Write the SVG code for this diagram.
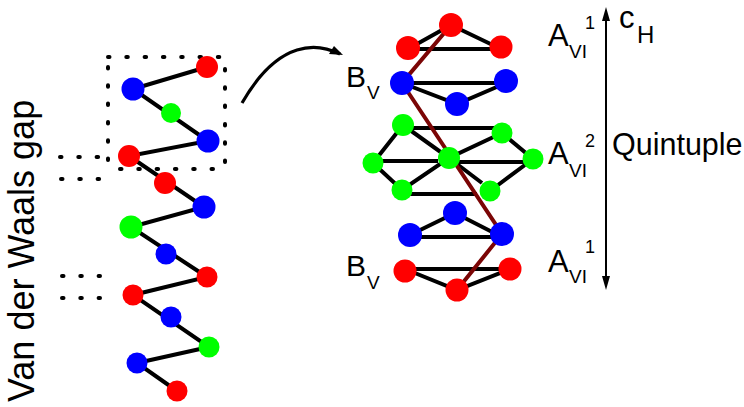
<svg xmlns="http://www.w3.org/2000/svg" width="744" height="407" viewBox="0 0 744 407">
<style>
.b{stroke:#000;stroke-width:4;fill:none}
.m{stroke:#7b0505;stroke-width:4;fill:none}
.d{stroke:#000;stroke-width:4;stroke-linecap:round;stroke-dasharray:1.5 16.8;fill:none}
.r{fill:#f00}.u{fill:#00f}.g{fill:#0f0}
text{font-family:"Liberation Sans",Arial,sans-serif;fill:#000}
.l{font-size:31px}.s{font-size:19px}.n{font-size:18px}
</style>
<g id="connectors">
<path class="b" d="M207 67L133 89L208 141L129 156L204 207L131 227L207 277L133 295L209 347L137 363L177 391"/>
<path class="b" d="M451 25L408 49H501L451 25M402 83H506L457 104L402 83"/>
<path class="b" d="M403 128H502M373 161H438M449 162H533M402 194H477M403 125L449 158L402 190L373 163L403 125M502 133L449 158L482 183M502 133L533 159L490 191"/>
<path class="b" d="M455 213L410 235V237H502L455 213M405 269H510L457 290L405 269"/>
<path class="m" d="M451 25L402 83L502 234L457 290"/>
<path class="d" d="M108 57H225M108 67V165M225 69V165M120 169H225"/>
<path class="d" d="M60 157H100M61 179H100M62 276H100M62 298H100"/>
<path d="M242 103C258 75 275 57 297 50C312 45 326 47 340 54" fill="none" stroke="#000" stroke-width="3.2"/>
<path d="M334 46L343 55L329 54z"/>
<path d="M606 12V284" stroke="#000" stroke-width="2" fill="none"/>
<path d="M606 7L602 21H610zM606 290L602 276H610z"/>
</g>
<g id="left-chain">
<circle class="r" cx="207" cy="67" r="11"/><circle class="u" cx="133" cy="89" r="11.5"/><circle class="g" cx="171" cy="113" r="10"/><circle class="u" cx="208" cy="141" r="11.5"/><circle class="r" cx="129" cy="156" r="11"/>
<circle class="r" cx="165" cy="183" r="11"/><circle class="u" cx="204" cy="207" r="11.5"/><circle class="g" cx="131" cy="227" r="11.5"/><circle class="u" cx="166" cy="254" r="10.5"/><circle class="r" cx="207" cy="277" r="10.5"/>
<circle class="r" cx="133" cy="295" r="10.5"/><circle class="u" cx="171" cy="317" r="10.5"/><circle class="g" cx="209" cy="347" r="10.5"/><circle class="u" cx="137" cy="363" r="10.5"/><circle class="r" cx="177" cy="391" r="10.5"/>
</g>
<g id="top-a-layer"><circle class="r" cx="451" cy="25" r="12"/><circle class="r" cx="408" cy="48" r="12"/><circle class="r" cx="501" cy="47" r="11.5"/></g>
<g id="top-b-layer"><circle class="u" cx="402" cy="83" r="12"/><circle class="u" cx="506" cy="81" r="12"/><circle class="u" cx="457" cy="104" r="12"/></g>
<g id="middle-a-layer"><circle class="g" cx="403" cy="125" r="11"/><circle class="g" cx="502" cy="133" r="10.5"/><circle class="g" cx="373" cy="163" r="10.5"/><circle class="g" cx="449" cy="158" r="11"/><circle class="g" cx="533" cy="159" r="10.5"/><circle class="g" cx="402" cy="190" r="10.5"/><circle class="g" cx="490" cy="191" r="10.5"/></g>
<g id="lower-b-layer"><circle class="u" cx="455" cy="213" r="12"/><circle class="u" cx="410" cy="235" r="12"/><circle class="u" cx="502" cy="234" r="12"/></g>
<g id="bottom-a-layer"><circle class="r" cx="405" cy="271" r="11.5"/><circle class="r" cx="510" cy="269" r="11.5"/><circle class="r" cx="457" cy="290" r="11.5"/></g>
<g id="labels">
<text transform="translate(34 402) rotate(-90)" style="font-size:36px">Van der Waals gap</text>
<text x="346" y="87" style="font-size:30px">B</text><text class="s" x="367" y="99">V</text>
<text x="346" y="276" style="font-size:30px">B</text><text class="s" x="367" y="289">V</text>
<text class="l" x="548" y="46">A</text><text class="s" x="569" y="58">VI</text><text class="n" x="585" y="29">1</text>
<text class="l" x="548" y="164">A</text><text class="s" x="569" y="177">VI</text><text class="n" x="585" y="147">2</text>
<text class="l" x="548" y="272">A</text><text class="s" x="569" y="283">VI</text><text class="n" x="585" y="253">1</text>
<text x="619" y="28" style="font-size:31px">c</text><text x="637" y="43" style="font-size:24px">H</text>
<text x="612" y="155" style="font-size:30.5px">Quintuple</text>
</g>
</svg>
